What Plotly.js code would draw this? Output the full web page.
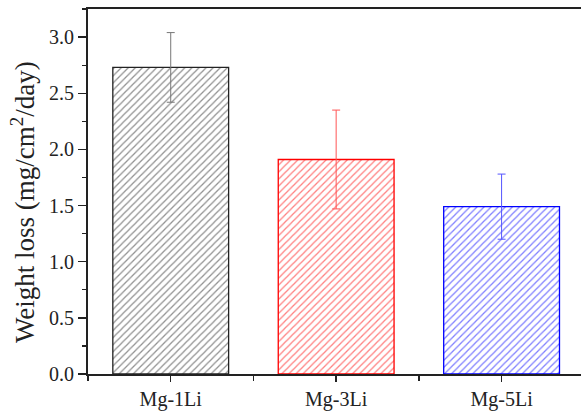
<!DOCTYPE html>
<html>
<head>
<meta charset="utf-8">
<script src="https://cdn.plot.ly/plotly-3.0.1.min.js"></script>
<style>html,body{margin:0;padding:0;background:#fff;}#chart{width:581px;height:412px;}</style>
</head>
<body>
<div id="chart"></div>
<script>
const categories = ["Mg-1Li", "Mg-3Li", "Mg-5Li"];
const weightLoss = [2.73, 1.91, 1.49];
const errors = [0.31, 0.44, 0.29];
const colors = ["#222222", "#ff0000", "#0000ff"];
const errColors = ["#777777", "#ff5555", "#5555ff"];
const yTitle = "Weight loss (mg/cm<sup>2</sup>/day)";

const positions = categories.map((c, i) => i);

const traces = categories.map((c, i) => ({
  type: "bar",
  x: [positions[i]],
  y: [weightLoss[i]],
  width: 0.7,
  marker: {
    color: "#ffffff",
    line: {color: colors[i], width: 1.3},
    pattern: {shape: "/", fgcolor: colors[i], bgcolor: "#ffffff", size: 5, solidity: 0.25, fillmode: "overlay"}
  },
  error_y: {type: "data", array: [errors[i]], visible: true, color: errColors[i], thickness: 1, width: 4},
  showlegend: false,
  hoverinfo: "skip"
}));

const layout = {
  width: 581, height: 412,
  margin: {l: 88, r: 0, t: 9, b: 38},
  paper_bgcolor: "#ffffff", plot_bgcolor: "#ffffff",
  font: {family: "Liberation Serif, Times New Roman, serif", size: 20, color: "#222"},
  bargap: 0.3,
  xaxis: {
    range: [-0.5, 2.48],
    tickmode: "array", tickvals: positions, ticktext: categories,
    showgrid: false, zeroline: false,
    showline: true, linecolor: "#222", linewidth: 2, mirror: true,
    ticks: "outside", ticklen: 6, tickwidth: 1.3, tickcolor: "#222",
    minor: {dtick: 0.5, tick0: 0.5, ticks: "outside", ticklen: 5, tickwidth: 1.3, tickcolor: "#222"},
    tickfont: {size: 20}
  },
  yaxis: {
    range: [0, 3.25],
    dtick: 0.5, tickformat: ".1f",
    showgrid: false, zeroline: false,
    showline: true, linecolor: "#222", linewidth: 2,
    ticks: "outside", ticklen: 8, tickwidth: 1.3, tickcolor: "#222",
    minor: {dtick: 0.25, ticks: "outside", ticklen: 4, tickwidth: 1.3, tickcolor: "#222"},
    tickfont: {size: 20}
  },
  annotations: [{
    text: yTitle, textangle: -90, showarrow: false,
    xref: "paper", yref: "paper", x: 0, y: 0.471,
    xanchor: "center", yanchor: "middle", xshift: -65,
    font: {size: 27, family: "Liberation Serif, Times New Roman, serif", color: "#222"}
  }]
};

Plotly.newPlot("chart", traces, layout, {staticPlot: true, displayModeBar: false});
</script>
</body>
</html>
